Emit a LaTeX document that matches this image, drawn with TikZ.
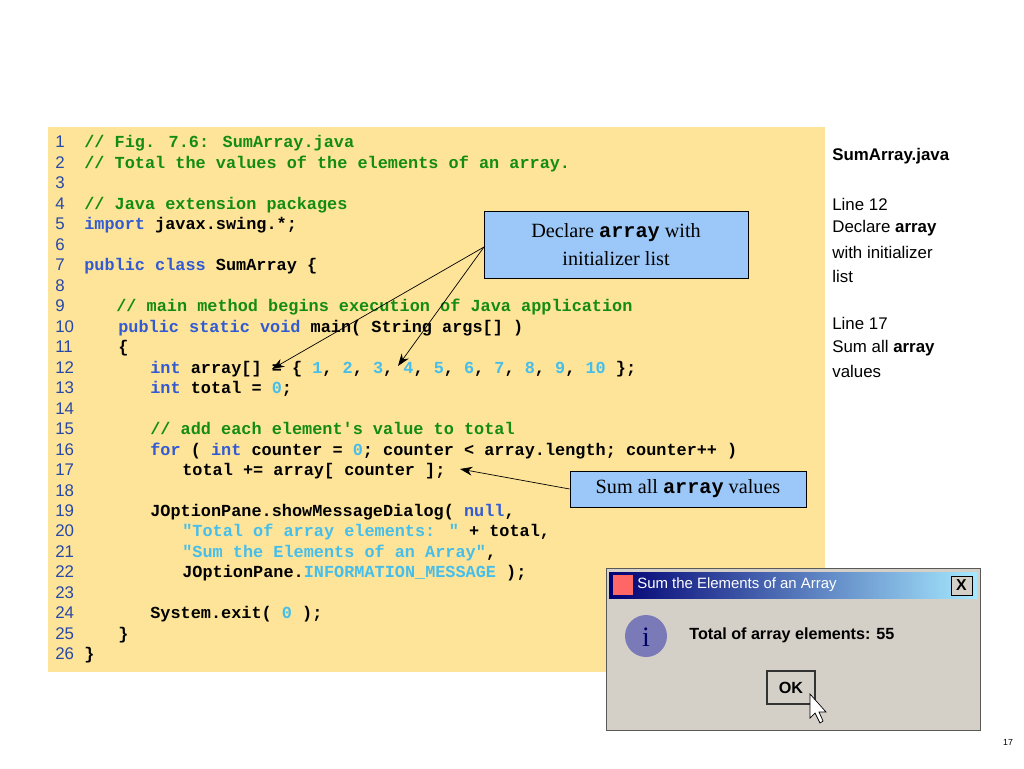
\documentclass[tikz,border=0pt]{standalone}
\usepackage{fontspec}
\setmainfont{Liberation Serif}
\newfontfamily\codefont{Liberation Mono}
\newfontfamily\sansfont{Liberation Sans}
\usetikzlibrary{arrows.meta}
\definecolor{codebg}{RGB}{253,228,152}
\definecolor{cmtgreen}{RGB}{20,140,20}
\definecolor{kwblue}{RGB}{50,90,210}
\definecolor{numcyan}{RGB}{70,190,235}
\definecolor{callblue}{RGB}{155,200,248}
\definecolor{dlggray}{RGB}{212,208,200}
\newcommand{\kcm}[1]{\textcolor{cmtgreen}{#1}}
\newcommand{\kkw}[1]{\textcolor{kwblue}{#1}}
\newcommand{\knm}[1]{\textcolor{numcyan}{#1}}
\tikzset{
  codeline/.style={anchor=west,inner sep=0pt,text height=1.6ex,text depth=.4ex,font=\codefont\bfseries\fontsize{9.6}{10}\selectfont},
  linenum/.style={anchor=west,inner sep=0pt,text height=1.6ex,text depth=.4ex,text=kwblue!80!black,font=\sansfont\fontsize{9.6}{10}\selectfont},
  sidetext/.style={anchor=west,inner sep=0pt,font=\sansfont\fontsize{9.6}{10}\selectfont},
  callout/.style={draw=black,fill=callblue,align=center,inner sep=2pt,font=\fontsize{11.5}{16}\selectfont},
  callarrow/.style={-{Stealth[length=7pt,width=5pt]},thin}
}
\begin{document}
\begin{tikzpicture}[x=0.02cm,y=-0.02cm]
\useasboundingbox (0,0) rectangle (1024,768);
\pgfmathsetmacro{\klstep}{20.48}
\fill[codebg] (48,127) rectangle (825,672);
\foreach \kn in {1,...,26}{\node[linenum] (ln\kn) at (55,143+\klstep*\kn-\klstep) {\kn};}
\foreach \kn/\kx/\ktxt in {
 1/84/{\kcm{// Fig. 7.6: SumArray.java}},
 2/84/{\kcm{// Total the values of the elements of an array.}},
 4/84/{\kcm{// Java extension packages}},
 5/84/{\kkw{import} javax.swing.*;},
 7/84/{\kkw{public class} SumArray \{},
 9/116/{\kcm{// main method begins execution of Java application}},
 10/118/{\kkw{public static void} main( String args[] )},
 11/118/{\{},
 12/150/{\kkw{int} array[] = \{ \knm{1}, \knm{2}, \knm{3}, \knm{4}, \knm{5}, \knm{6}, \knm{7}, \knm{8}, \knm{9}, \knm{10} \};},
 13/150/{\kkw{int} total = \knm{0};},
 15/150/{\kcm{// add each element's value to total}},
 16/150/{\kkw{for} ( \kkw{int} counter = \knm{0}; counter < array.length; counter++ )},
 17/182/{total += array[ counter ];},
 19/150/{JOptionPane.showMessageDialog( \kkw{null},},
 20/182/{\knm{"Total of array elements: "} + total,},
 21/182/{\knm{"Sum the Elements of an Array"},},
 22/182/{JOptionPane.\knm{INFORMATION\_MESSAGE} );},
 24/150/{System.exit( \knm{0} );},
 25/118/{\}},
 26/84/{\}}}
 {\node[codeline] (code\kn) at (\kx,143+\klstep*\kn-\klstep) {\ktxt};}
% callouts
\node[callout,minimum width=264*0.02cm,minimum height=67*0.02cm] (declbox) at (616,245)
  {Declare {\codefont\bfseries array} with\\initializer list};
\node[callout,minimum width=236*0.02cm,minimum height=36*0.02cm] (sumbox) at (688,489)
  {Sum all {\codefont\bfseries array} values};
\coordinate (declfrom) at (484,247);
\coordinate (arrdecl) at (272,369);
\coordinate (arrfour) at (398,366);
\coordinate (sumto) at (460,469);
\draw[callarrow] (declfrom) -- (arrdecl);
\draw[callarrow] (declfrom) -- (arrfour);
\draw[callarrow] (sumbox.west) -- (sumto);
% side notes
\foreach \ky/\ktxt in {156/{\textbf{SumArray.java}},204/{Line 12},228/{Declare \textbf{array}},252/{with initializer},276/{list},323/{Line 17},348/{Sum all \textbf{array}},371/{values}}
 {\node[sidetext] at (832,\ky) {\ktxt};}
% dialog
\draw[gray!70!black,fill=dlggray] (606,568) rectangle (980,730);
\shade[left color=blue!45!black,right color=blue!25!cyan!35] (609,572) rectangle (977,598);
\node[anchor=west,text=white,inner sep=0pt,font=\sansfont\fontsize{8.5}{10}\selectfont] (dlgtitle) at (637,585) {Sum the Elements of an Array};
\draw[fill=dlggray] (951,576) rectangle (972,595);
\node[inner sep=0pt,font=\sansfont\bfseries\fontsize{9}{10}\selectfont] (dlgclose) at (961.5,585.5) {X};
\fill[red!60!white] (613,575) rectangle (633,595);
\fill[blue!30!gray!80] (646,636) circle (21);
\node[inner sep=0pt,text=blue!40!black,font=\fontsize{16}{16}\selectfont] (dlgicon) at (646,637) {i};
\node[anchor=west,inner sep=0pt,font=\sansfont\bfseries\fontsize{9.2}{10}\selectfont] (dlgmsg) at (689,635) {Total of array elements: 55};
\draw[gray!40!black,line width=1.2pt,fill=dlggray] (767,671) rectangle (815,704);
\node[inner sep=0pt,font=\sansfont\bfseries\fontsize{9.2}{10}\selectfont] (dlgok) at (791,688) {OK};
\draw[black,fill=white] (810,694) -- (810,718) -- (815,713) -- (820,723) -- (823,721) -- (819,712) -- (826,712) -- cycle;
\node[inner sep=0pt,font=\sansfont\fontsize{5}{6}\selectfont] (pagenum) at (1008,742) {17};
\end{tikzpicture}
\end{document}
